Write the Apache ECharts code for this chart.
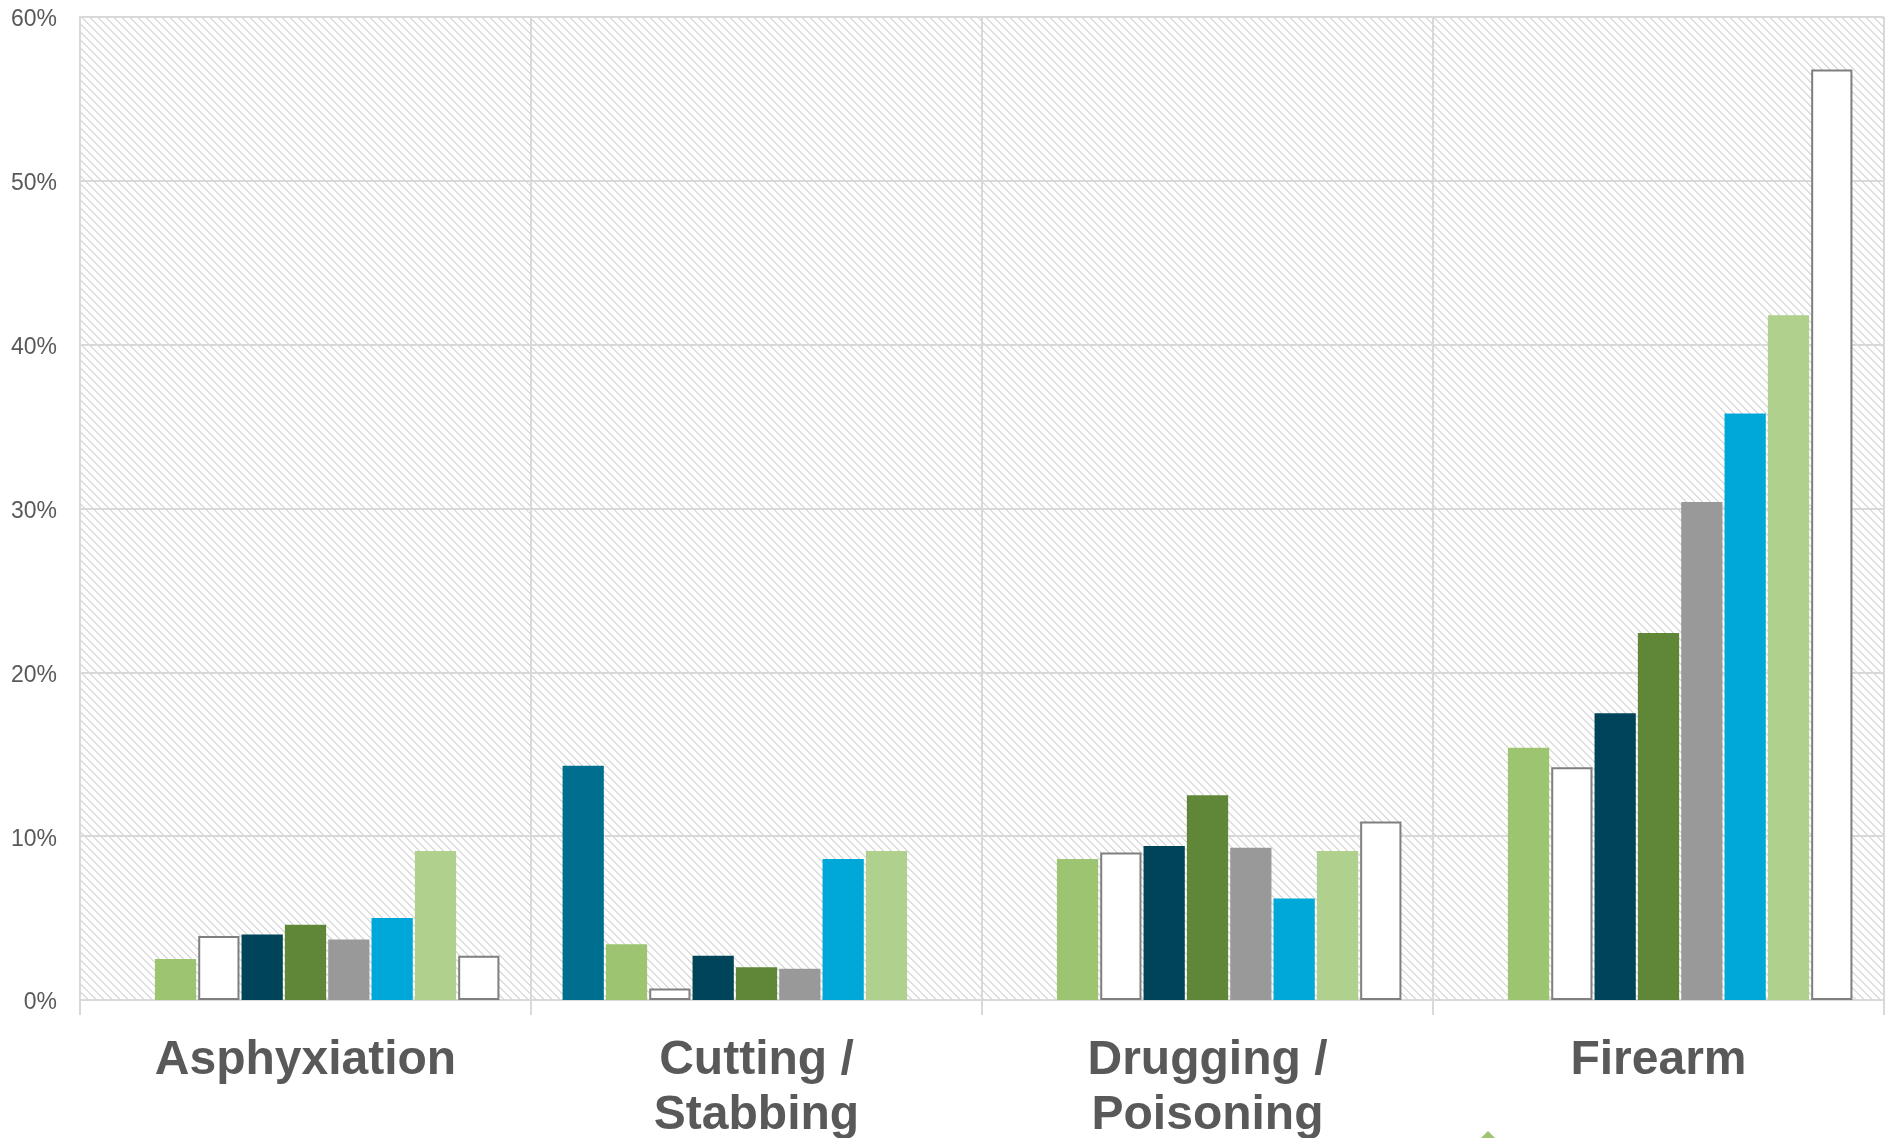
<!DOCTYPE html>
<html>
<head>
<meta charset="utf-8">
<script src="https://cdn.jsdelivr.net/npm/echarts@6/dist/echarts.min.js"></script>
<style>
html,body{margin:0;padding:0;background:#fff;}
#chart{width:1890px;height:1138px;}
</style>
</head>
<body>
<div id="chart"></div>
<script>
// ---- data ----
const categories = ['Asphyxiation', 'Cutting /\nStabbing', 'Drugging /\nPoisoning', 'Firearm'];
const yTicks = [0, 10, 20, 30, 40, 50, 60];
const seriesNames = ['Series 1','Series 2','Series 3','Series 4','Series 5','Series 6','Series 7','Series 8','Series 9'];
const s1 = [null, 14.3, null, null];
const s2 = [2.5, 3.4, 8.6, 15.4];
const s3 = [3.9, 0.7, 9.0, 14.2];
const s4 = [4.0, 2.7, 9.4, 17.5];
const s5 = [4.6, 2.0, 12.5, 22.4];
const s6 = [3.7, 1.9, 9.3, 30.4];
const s7 = [5.0, 8.6, 6.2, 35.8];
const s8 = [9.1, 9.1, 9.1, 41.8];
const s9 = [2.7, null, 10.9, 56.8];
const seriesValues = [s1, s2, s3, s4, s5, s6, s7, s8, s9];

// ---- styles ----
const colors = ['#006E8F', '#9DC471', '#FFFFFF', '#00445A', '#5F8737', '#999999', '#00A8D9', '#B0D08D', '#FFFFFF'];
const borders = [null, null, '#7F7F7F', null, null, null, null, null, '#7F7F7F'];

// hatch pattern
const pc = document.createElement('canvas');
pc.width = 8; pc.height = 8;
const pctx = pc.getContext('2d');
pctx.fillStyle = '#ffffff';
pctx.fillRect(0, 0, 8, 8);
pctx.fillStyle = '#dcdcdc';
for (let i = 0; i < 8; i++) {
  pctx.fillRect(i, i, 1, 1);
  pctx.fillRect((i + 1) % 8, i, 1, 1);
}

const chart = echarts.init(document.getElementById('chart'), null, {renderer: 'canvas'});
const series = seriesValues.map((vals, i) => ({
  name: seriesNames[i],
  type: 'bar',
  data: vals,
  barGap: '5%',
  barCategoryGap: '14%',
  itemStyle: {
    color: colors[i],
    borderColor: borders[i] || colors[i],
    borderWidth: borders[i] ? 2 : 0
  },
  emphasis: {disabled: true},
  animation: false
}));

chart.setOption({
  animation: false,
  backgroundColor: '#ffffff',
  grid: {
    left: 80, right: 6, top: 17, bottom: 138,
    containLabel: false,
    outerBoundsMode: 'none',
    show: true,
    backgroundColor: {image: pc, repeat: 'repeat'},
    borderWidth: 0
  },
  legend: {show: false},
  xAxis: {
    type: 'category',
    data: categories,
    axisLine: {show: true, lineStyle: {color: '#D9D9D9', width: 2}},
    axisTick: {show: true, length: 15, lineStyle: {color: '#D9D9D9', width: 2}},
    splitLine: {show: true, lineStyle: {color: '#D9D9D9', width: 2}},
    axisLabel: {
      color: '#595959',
      fontFamily: 'Liberation Sans, Arial, sans-serif',
      fontWeight: 'bold',
      fontSize: 48,
      lineHeight: 55,
      margin: 33,
      interval: 0
    }
  },
  yAxis: {
    type: 'value',
    min: yTicks[0],
    max: yTicks[yTicks.length - 1],
    interval: 10,
    axisLine: {show: true, lineStyle: {color: '#D9D9D9', width: 2}},
    axisTick: {show: false},
    splitLine: {show: true, lineStyle: {color: '#D9D9D9', width: 2}},
    axisLabel: {
      color: '#595959',
      fontFamily: 'Liberation Sans, Arial, sans-serif',
      fontSize: 23,
      margin: 23,
      verticalAlign: 'top',
      lineHeight: 6,
      formatter: v => v + '%'
    }
  },
  graphic: [{
    type: 'polygon',
    shape: {points: [[1488, 1131], [1498, 1141], [1488, 1151], [1478, 1141]]},
    style: {fill: '#9DC471'},
    silent: true
  }],
  series: series
});
</script>
</body>
</html>
